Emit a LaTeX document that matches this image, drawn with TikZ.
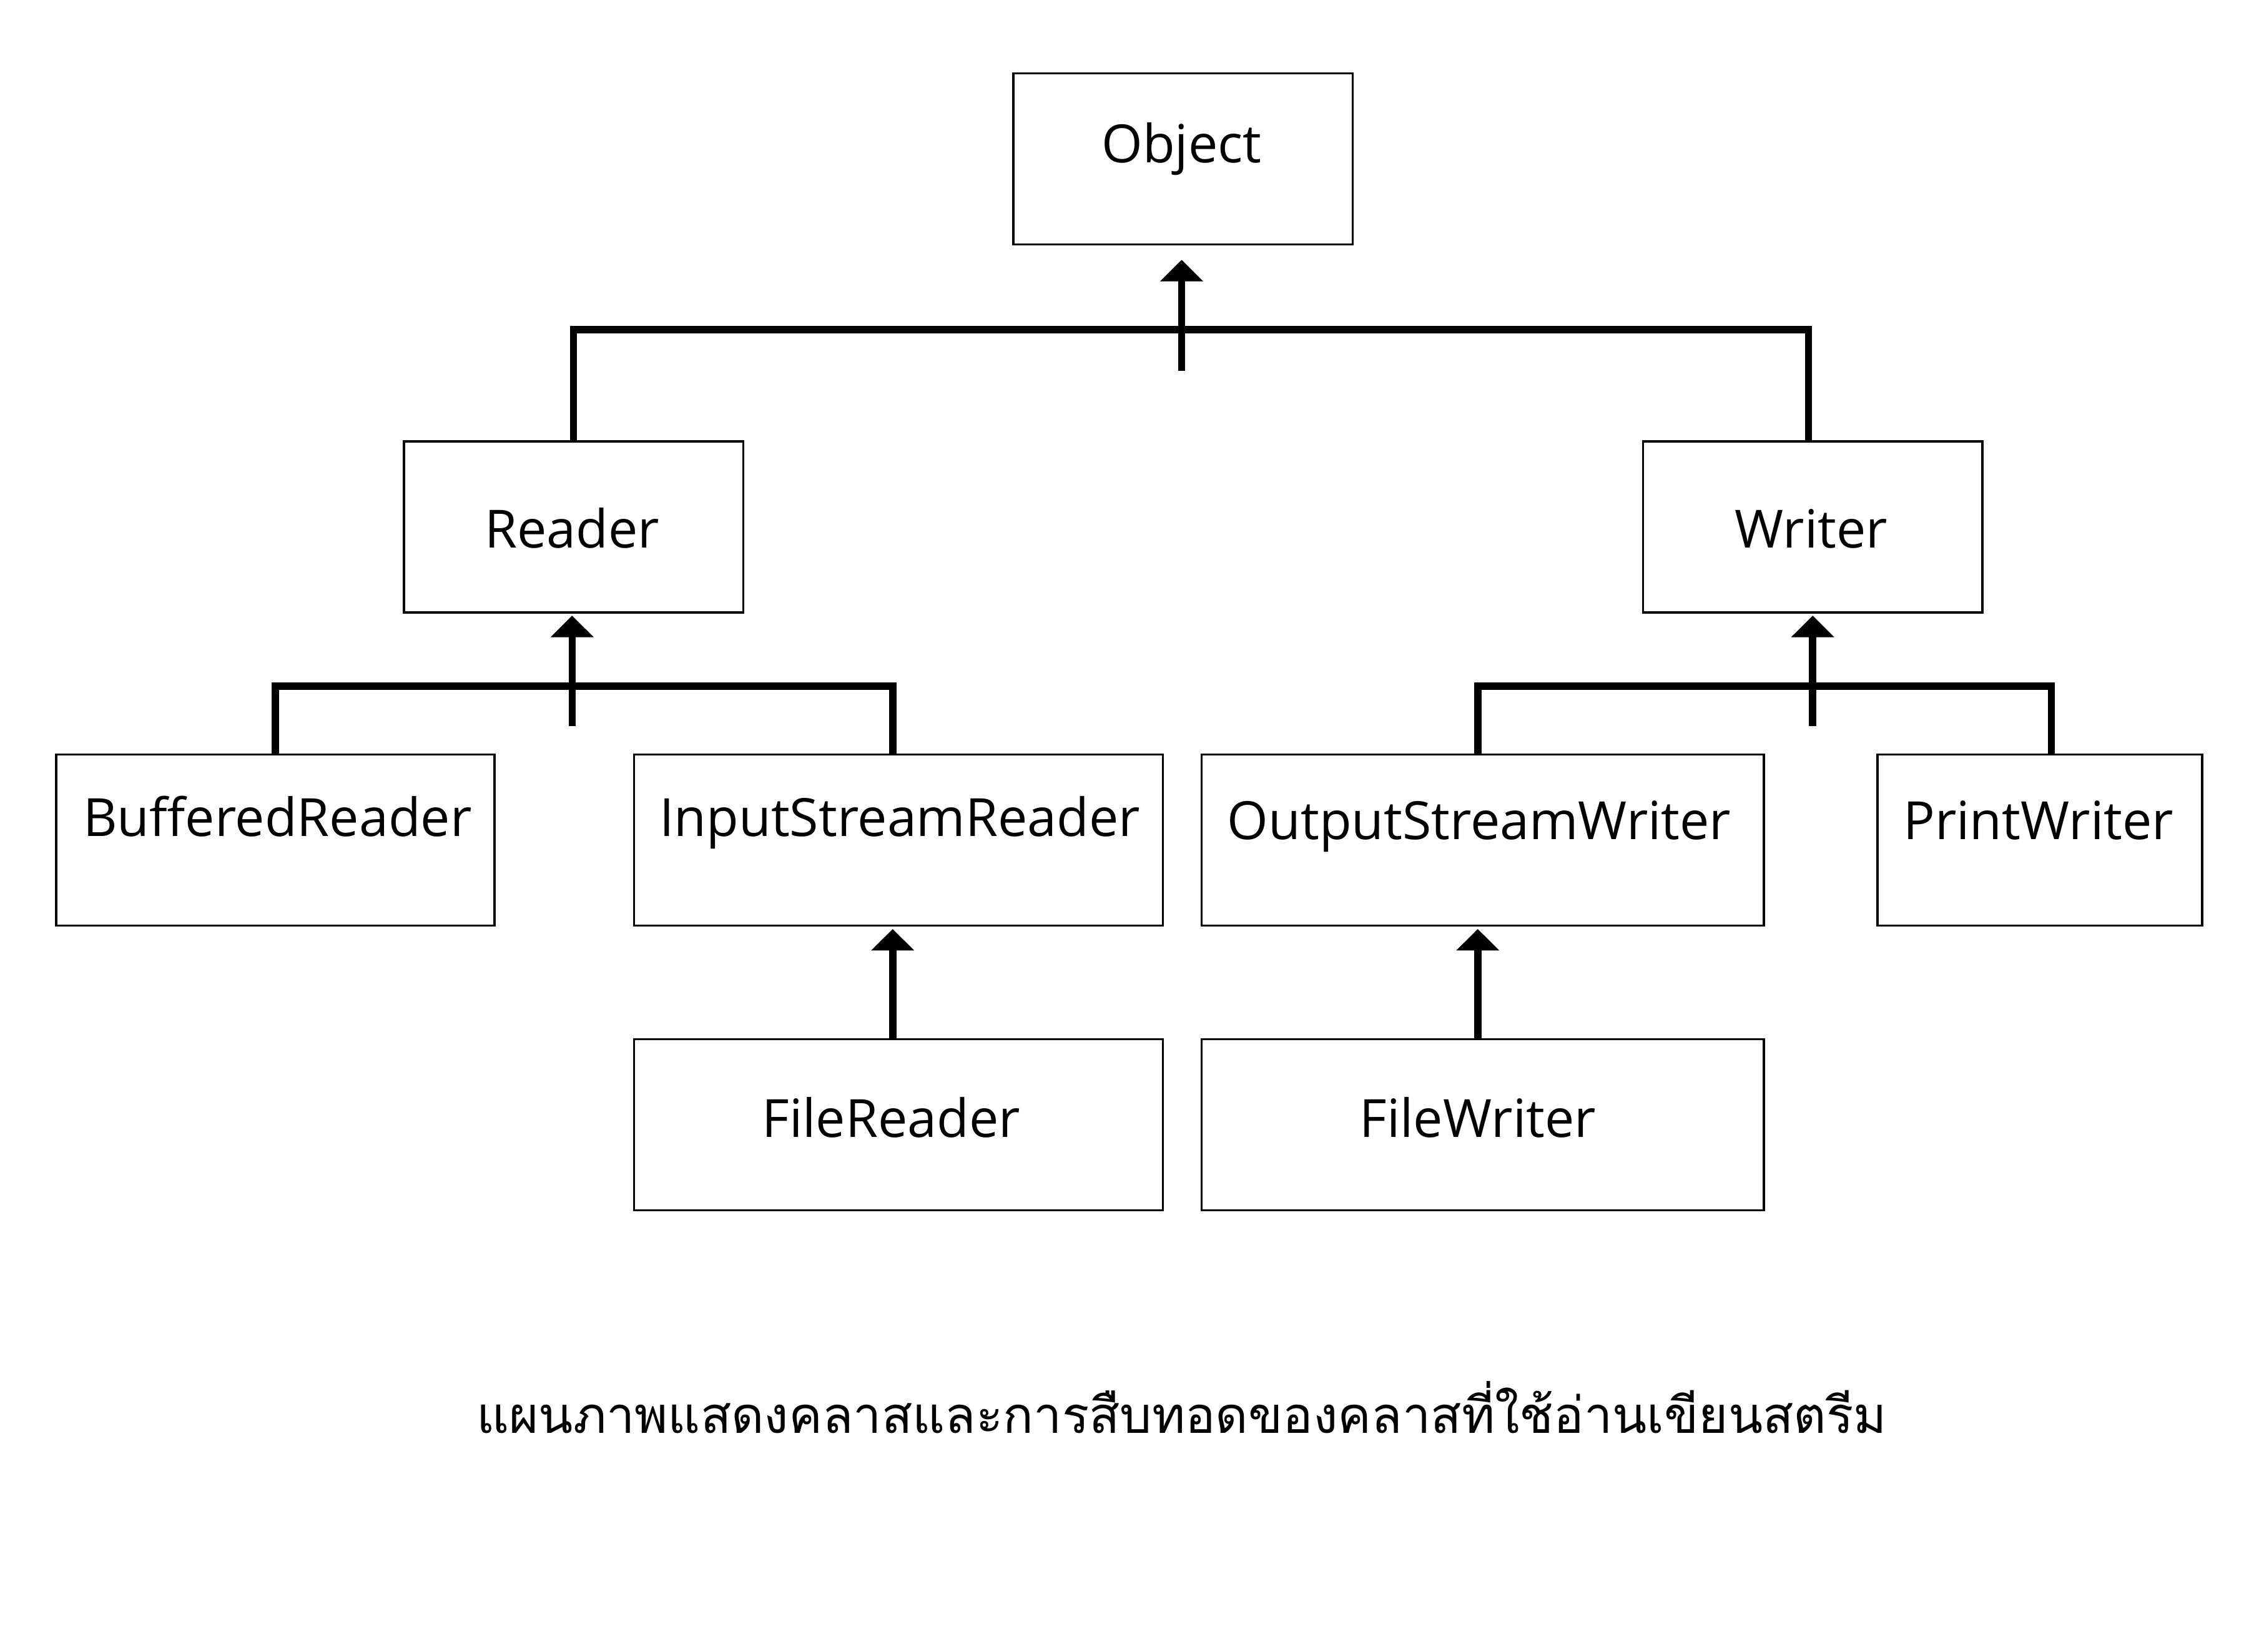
\documentclass[tikz,border=0pt]{standalone}
\usepackage{fontspec}
\setmainfont{Open Sans}
\newfontfamily\thaifont[Script=Thai]{Loma}
\usetikzlibrary{arrows.meta,calc}
\tikzset{
  box/.style={draw=black, line width=1pt, rectangle, inner sep=0pt},
  lbl/.style={anchor=base, inner sep=0pt, font=\fontsize{24}{28}\selectfont},
  conn/.style={line width=3.3pt, line cap=butt},
  arr/.style={line width=3.3pt, -{Triangle[width=0.67cm,length=0.345cm]}, shorten >=1pt},
}
\begin{document}
\begin{tikzpicture}[x=0.023023cm, y=-0.023023cm]
\useasboundingbox (0,0) rectangle (1568,1149);
% boxes (centres and sizes in reference pixels)
\node[box, minimum width=236*0.023023cm, minimum height=119*0.023023cm] (obj) at (823,110.5) {};
\node[box, minimum width=236*0.023023cm, minimum height=119*0.023023cm] (reader) at (399,366.5) {};
\node[box, minimum width=236*0.023023cm, minimum height=119*0.023023cm] (writer) at (1261,366.5) {};
\node[box, minimum width=305*0.023023cm, minimum height=119*0.023023cm] (bufr) at (191.5,584.5) {};
\node[box, minimum width=368*0.023023cm, minimum height=119*0.023023cm] (isr) at (625,584.5) {};
\node[box, minimum width=391*0.023023cm, minimum height=119*0.023023cm] (osw) at (1031.5,584.5) {};
\node[box, minimum width=226*0.023023cm, minimum height=119*0.023023cm] (pw) at (1419,584.5) {};
\node[box, minimum width=368*0.023023cm, minimum height=119*0.023023cm] (fr) at (625,782.5) {};
\node[box, minimum width=391*0.023023cm, minimum height=119*0.023023cm] (fw) at (1031.5,782.5) {};
% texts
\node[lbl] (tobj) at (822,113) {Object};
\node[lbl] (treader) at (398,381) {Reader};
\node[lbl] (twriter) at (1260,381) {Writer};
\node[lbl] (tbufr) at (193,582) {BufferedReader};
\node[lbl] (tisr) at (626,582) {InputStreamReader};
\node[lbl] (tosw) at (1029,584) {OutputStreamWriter};
\node[lbl] (tpw) at (1418,584) {PrintWriter};
\node[lbl] (tfr) at (620,791) {FileReader};
\node[lbl] (tfw) at (1028,791) {FileWriter};
% caption
\node[anchor=base, inner sep=0pt, font=\thaifont\fontsize{23}{27}\selectfont] (cap) at (822,997) {แผนภาพแสดงคลาสและการสืบทอดของคลาสที่ใช้อ่านเขียนสตรีม};
% Object level
\coordinate (objfoot) at (822,258);
\draw[conn] (reader.north) -- ++(0,-77) -| ($(writer.north)+(-3,0)$);
\draw[arr, shorten >=0.23cm] (objfoot) -- (obj.south -| objfoot);
% Reader level
\coordinate (rfoot) at (398,505);
\draw[conn] (bufr.north) -- ++(0,-47) -| ($(isr.north)+(-4,0)$);
\draw[arr] (rfoot) -- (reader.south -| rfoot);
% Writer level
\coordinate (wfoot) at (1261,505);
\draw[conn] ($(osw.north)+(-3.5,0)$) -- ++(0,-47) -| ($(pw.north)+(8,0)$);
\draw[arr] (wfoot) -- (writer.south -| wfoot);
% File level
\draw[arr] ($(fr.north)+(-4,0)$) -- ($(isr.south)+(-4,0)$);
\draw[arr] ($(fw.north)+(-3.5,0)$) -- ($(osw.south)+(-3.5,0)$);
\end{tikzpicture}
\end{document}
